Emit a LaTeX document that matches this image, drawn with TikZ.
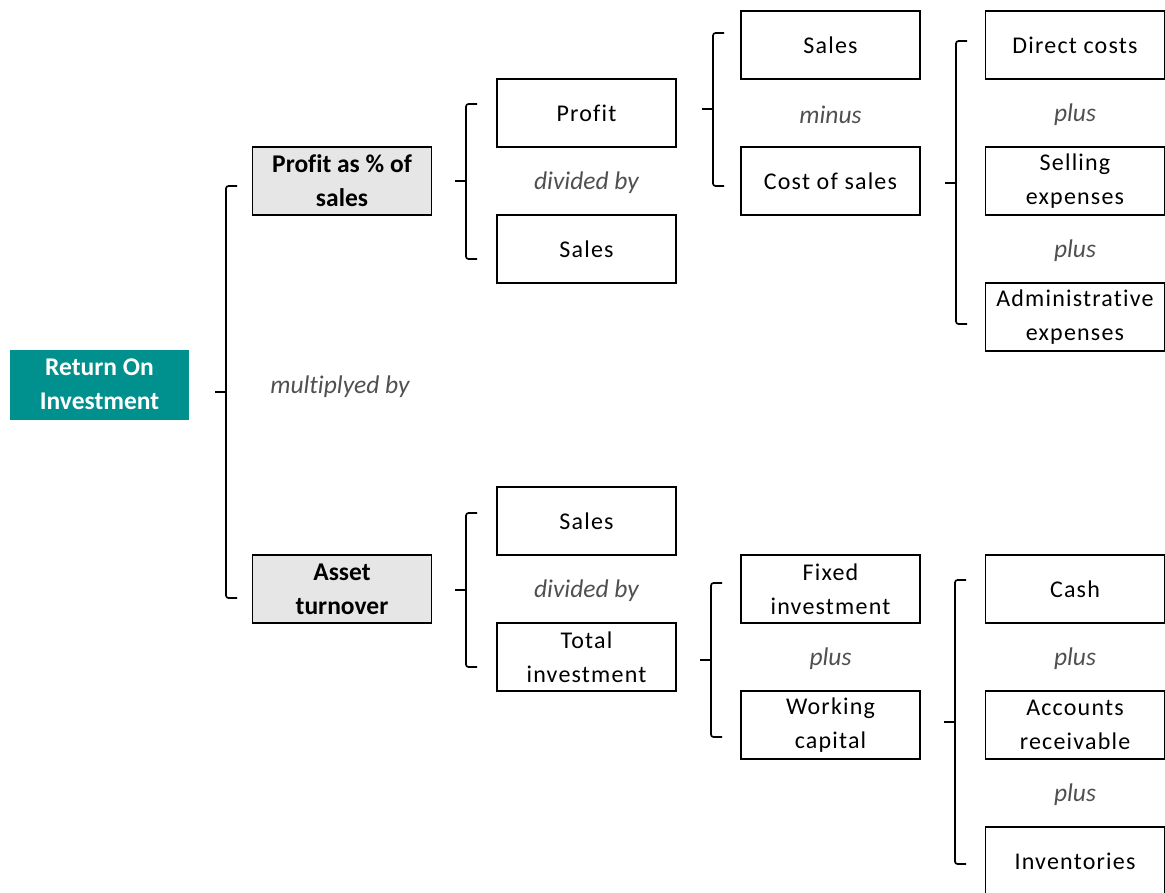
\documentclass[tikz,border=0pt]{standalone}
\usepackage{fontspec}
\setmainfont[Ligatures=NoCommon]{Carlito}
\definecolor{roiteal}{RGB}{0,145,142}
\definecolor{ratiogrey}{RGB}{230,230,230}
\definecolor{opgrey}{RGB}{80,80,80}
\begin{document}
\begin{tikzpicture}[x=1pt,y=-1pt,
  box/.style={draw=black, line width=1.8pt, fill=white, minimum width=179pt, minimum height=68pt,
    inner sep=0pt, align=center, font=\fontsize{24}{34}\selectfont\addfontfeature{LetterSpace=5}},
  ratio/.style={box, fill=ratiogrey, font=\fontsize{25.5}{34}\selectfont\bfseries},
  roi/.style={fill=roiteal, text=white, minimum width=179pt, minimum height=70pt, inner sep=0pt,
    align=center, font=\fontsize{25.5}{34}\selectfont\bfseries},
  op/.style={text=opgrey, font=\fontsize{25.5}{30}\selectfont\itshape, inner sep=0pt},
  brace/.style={draw=black, line width=1.7pt, rounded corners=2.5pt}]
\useasboundingbox (0,0) rectangle (1165,892);
\clip (0,0) rectangle (1165,892);

% root
\node[roi] (roi) at (99.5,384.5) {Return On\\Investment};

% level 1
\node[ratio] (pps) at (342,181) {Profit as \% of\\sales};
\node[ratio] (at) at (342,589) {Asset\\turnover};

% level 2
\node[box] (profit) at (586.5,113) {Profit};
\node[box] (salesA) at (586.5,249) {Sales};
\node[box] (salesB) at (586.5,521) {Sales};
\node[box] (totinv) at (586.5,657) {Total\\investment};

% level 3
\node[box] (salesT) at (830.5,45) {Sales};
\node[box] (cos) at (830.5,181) {Cost of sales};
\node[box] (fixinv) at (830.5,589) {Fixed\\investment};
\node[box] (wcap) at (830.5,725) {Working\\capital};

% level 4
\node[box] (direct) at (1075,45) {Direct costs};
\node[box] (selling) at (1075,181) {Selling\\expenses};
\node[box] (admin) at (1075,317) {Administrative\\expenses};
\node[box] (cash) at (1075,589) {Cash};
\node[box] (accrec) at (1075,725) {Accounts\\receivable};
\node[box] (inv) at (1075,861) {Inventories};

% operators
\node[op] (opA) at (340,387) {multiplyed by};
\node[op] (opB) at (586.5,183) {divided by};
\node[op] (opC) at (586.5,591) {divided by};
\node[op] (opD) at (830.5,115) {minus};
\node[op] (opE) at (1075,115) {plus};
\node[op] (opF) at (1075,251) {plus};
\node[op] (opG) at (830.5,659) {plus};
\node[op] (opH) at (1075,659) {plus};
\node[op] (opI) at (1075,795) {plus};

% braces: vertical at x, from top to bottom, tick at mid
\foreach \bx/\btop/\bbot/\bmid in {226/186/598/392, 466/104/259/181, 713/33/186/109,
    956/41/324/183, 466/513/667/590, 711/583/737/660, 955/580/864/722}{
  \draw[brace] (\bx+11,\btop) -- (\bx,\btop) -- (\bx,\bbot) -- (\bx+11,\bbot);
  \draw[brace] (\bx,\bmid) -- (\bx-11,\bmid);
}
\end{tikzpicture}
\end{document}
